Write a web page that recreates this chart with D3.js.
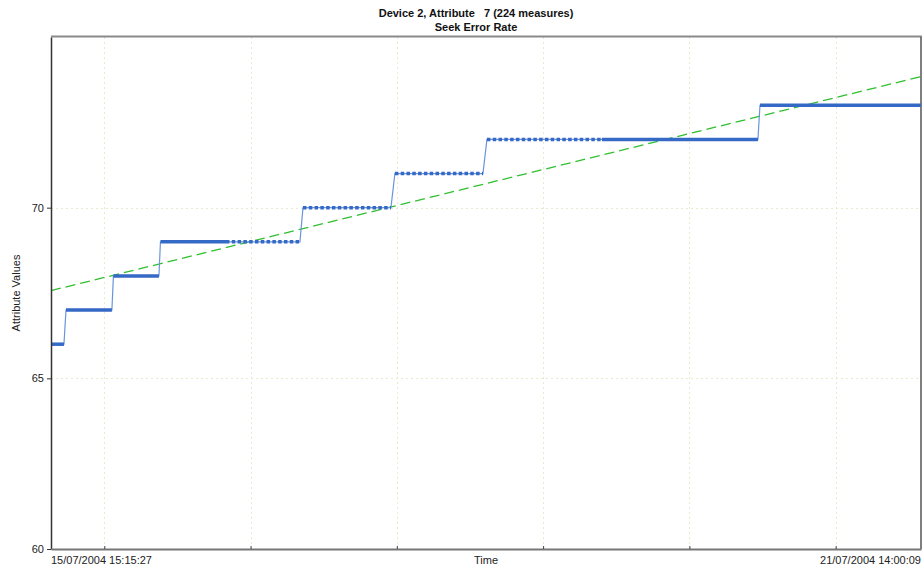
<!DOCTYPE html>
<html>
<head>
<meta charset="utf-8">
<script src="https://cdn.jsdelivr.net/npm/d3@7"></script>
<style>
  body { margin: 0; background: #fff; }
  svg { display: block; font-family: "Liberation Sans", Arial, sans-serif; }
</style>
</head>
<body>
<svg id="chart" width="922" height="567"></svg>
<script>
// chart values
const titleLines = ["Device 2, Attribute   7 (224 measures)", "Seek Error Rate"];
const timeStart = "15/07/2004 15:15:27";
const timeEnd = "21/07/2004 14:00:09";
const yTicks = [60, 65, 70];

// one entry per horizontal run of identical measurements
const stepLevels = [66, 67, 68, 69, 69, 70, 71, 72, 72, 73];
const stepStarts = [
  "15/07/2004 15:15:27", "15/07/2004 17:43:00", "16/07/2004 01:30:00", "16/07/2004 09:13:00",
  "16/07/2004 19:58:00", "17/07/2004 08:36:00", "17/07/2004 23:41:00", "18/07/2004 14:47:00",
  "19/07/2004 09:39:00", "20/07/2004 11:35:00"
];
const stepEnds = [
  "15/07/2004 17:23:00", "16/07/2004 01:15:00", "16/07/2004 08:58:00", "16/07/2004 19:58:00",
  "17/07/2004 08:06:00", "17/07/2004 23:02:00", "18/07/2004 14:08:00", "19/07/2004 09:39:00",
  "20/07/2004 11:15:00", "21/07/2004 14:00:09"
];
const stepSampling = ["dense", "dense", "dense", "dense", "sparse", "sparse", "sparse", "sparse", "dense", "dense"];

// linear trend, value at the first and last time
const trendValues = [67.57, 73.84];

const parse = d3.timeParse("%d/%m/%Y %H:%M:%S");
const fmt = d3.timeFormat("%d/%m/%Y %H:%M:%S");

const svg = d3.select("#chart");
const margin = { top: 37, right: 1, bottom: 18, left: 51 };
const W = 922, H = 567;

const t0 = parse(timeStart), t1 = parse(timeEnd);
const x = d3.scaleTime().domain([t0, t1]).range([margin.left, W - margin.right]);
const y = d3.scaleLinear().domain([60, 75]).range([H - margin.bottom, margin.top]);

const steps = stepLevels.map((v, i) => ({
  v, s: parse(stepStarts[i]), e: parse(stepEnds[i]), kind: stepSampling[i]
}));

// grid
const dayTicks = d3.timeDay.range(d3.timeDay.ceil(t0), t1);
const grid = svg.append("g").attr("stroke", "#e9e9cf").attr("stroke-width", 1)
  .attr("stroke-dasharray", "2,3");
grid.selectAll(".vg").data(dayTicks).enter().append("line")
  .attr("x1", d => Math.round(x(d)) + 0.5).attr("x2", d => Math.round(x(d)) + 0.5)
  .attr("y1", y(75)).attr("y2", y(60));
grid.selectAll(".hg").data([65, 70]).enter().append("line")
  .attr("x1", x(t0)).attr("x2", x(t1))
  .attr("y1", d => Math.round(y(d)) + 0.5).attr("y2", d => Math.round(y(d)) + 0.5);

// frame top / right
svg.append("line").attr("x1", x(t0)).attr("x2", x(t1) + 1).attr("y1", y(75) - 0.5).attr("y2", y(75) - 0.5)
  .attr("stroke", "#8a8a8a").attr("stroke-width", 2);
svg.append("line").attr("x1", x(t1)).attr("x2", x(t1)).attr("y1", y(75)).attr("y2", y(60))
  .attr("stroke", "#555").attr("stroke-width", 1.5);

// trend line
svg.append("line")
  .attr("x1", x(t0)).attr("y1", y(trendValues[0]))
  .attr("x2", x(t1)).attr("y2", y(trendValues[1]))
  .attr("stroke", "#2fbf2f").attr("stroke-width", 1.3)
  .attr("stroke-dasharray", "10,5");

// thin connecting line through every run and riser
const pathPts = [];
steps.forEach(d => { pathPts.push([d.s, d.v]); pathPts.push([d.e, d.v]); });
svg.append("path")
  .datum(pathPts)
  .attr("fill", "none").attr("stroke", "#6a94dc").attr("stroke-width", 1.2)
  .attr("d", d3.line().x(d => x(d[0])).y(d => y(d[1])));

// thick runs
svg.selectAll(".run").data(steps).enter().append("line")
  .attr("x1", d => x(d.s)).attr("x2", d => x(d.e))
  .attr("y1", d => y(d.v)).attr("y2", d => y(d.v))
  .attr("stroke", "#3569c6")
  .attr("stroke-width", 3.5)
  .attr("stroke-dasharray", d => d.kind === "sparse" ? "3.5,2.3" : null);

// axes
const yAxis = svg.append("g").attr("transform", `translate(${margin.left},0)`)
  .call(d3.axisLeft(y).tickValues(yTicks).tickSize(4).tickSizeOuter(0).tickPadding(3));
yAxis.select(".domain").attr("stroke", "#333").attr("stroke-width", 1.5);
yAxis.selectAll(".tick line").attr("stroke", "#333");
yAxis.selectAll("text").attr("font-size", 11).attr("fill", "#222");

const xAxis = svg.append("g").attr("transform", `translate(0,${y(60)})`)
  .call(d3.axisBottom(x).tickValues(dayTicks).tickSize(-3).tickSizeOuter(0).tickFormat(""));
xAxis.select(".domain").attr("stroke", "#777").attr("stroke-width", 2);
xAxis.selectAll(".tick line").attr("stroke", "#444");

svg.append("text").attr("x", x(t0)).attr("y", 564).attr("font-size", 11).attr("fill", "#222")
  .text(fmt(t0));
svg.append("text").attr("x", x(t1)).attr("y", 564).attr("font-size", 11).attr("fill", "#222")
  .attr("text-anchor", "end").text(fmt(t1));
svg.append("text").attr("x", 486).attr("y", 564).attr("font-size", 11).attr("fill", "#222")
  .attr("text-anchor", "middle").text("Time");

svg.append("text")
  .attr("transform", `translate(20,${(y(60) + y(75)) / 2}) rotate(-90)`)
  .attr("text-anchor", "middle").attr("font-size", 11).attr("fill", "#222")
  .text("Attribute Values");

// title
svg.selectAll(".title").data(titleLines).enter().append("text")
  .attr("x", 476).attr("y", (d, i) => 17 + i * 14)
  .attr("text-anchor", "middle").attr("font-size", 11).attr("font-weight", "bold")
  .style("white-space", "pre")
  .attr("fill", "#111").text(d => d);
</script>
</body>
</html>
